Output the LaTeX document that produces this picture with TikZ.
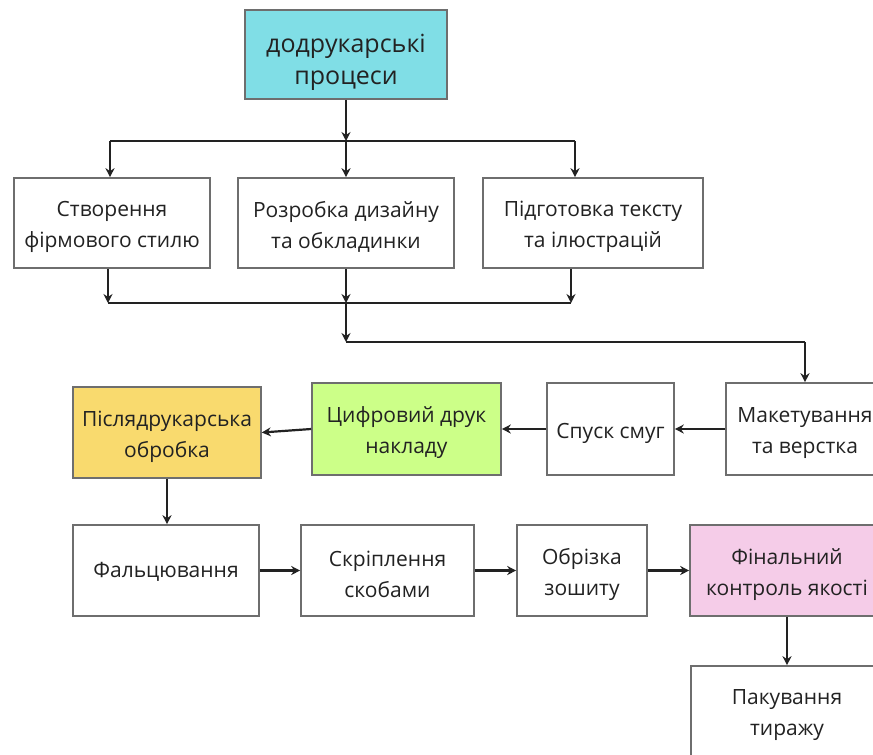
\documentclass[tikz,border=0pt]{standalone}
\usepackage{fontspec}
\setmainfont{Open Sans}
\usetikzlibrary{arrows.meta}
\definecolor{cyanbox}{HTML}{80DEE6}
\definecolor{yellowbox}{HTML}{F9DA6E}
\definecolor{greenbox}{HTML}{CCFF88}
\definecolor{pinkbox}{HTML}{F5CCE8}
\definecolor{edgegray}{HTML}{6E6E6E}
\definecolor{txt}{HTML}{222222}
\tikzset{
  box/.style={draw=edgegray, line width=1.6pt, fill=white, inner sep=0pt},
  lbl/.style={align=center, inner sep=0pt, text=txt, font=\fontsize{21}{31}\selectfont, yshift=-4pt},
  toplbl/.style={lbl, font=\fontsize{25}{32}\selectfont, yshift=-4pt},
  conn/.style={draw=txt, line width=2.2pt},
  arr/.style={conn, -{Stealth[length=9pt,width=9pt]}},
}
\begin{document}
\begin{tikzpicture}[x=1pt,y=-1pt]
\clip (0,0) rectangle (873,755);
\fill[white] (0,0) rectangle (873,755);
% nodes
\node[box, fill=cyanbox, minimum width=202pt, minimum height=89pt,
  label={[toplbl]center:додрукарські\\процеси}] (top) at (346,54.5) {};
\node[box, minimum width=196pt, minimum height=90pt,
  label={[lbl]center:Створення\\фірмового стилю}] (b1) at (112,223) {};
\node[box, minimum width=216pt, minimum height=90pt,
  label={[lbl]center:Розробка дизайну\\та обкладинки}] (b2) at (346,223) {};
\node[box, minimum width=220pt, minimum height=90pt,
  label={[lbl]center:Підготовка тексту\\та ілюстрацій}] (b3) at (593,223) {};
\node[box, fill=yellowbox, minimum width=188pt, minimum height=91pt,
  label={[lbl]center:Післядрукарська\\обробка}] (post) at (167,432.5) {};
\node[box, fill=greenbox, minimum width=189pt, minimum height=92pt,
  label={[lbl]center:Цифровий друк\\накладу}] (digi) at (406.5,429) {};
\node[box, minimum width=127pt, minimum height=92pt,
  label={[lbl]center:Спуск смуг}] (spusk) at (610.5,429) {};
\node[box, minimum width=158pt, minimum height=92pt,
  label={[lbl]center:Макетування\\та верстка}] (maket) at (805,429) {};
\node[box, minimum width=186pt, minimum height=91pt,
  label={[lbl, yshift=3pt]center:Фальцювання}] (falc) at (166,570.5) {};
\node[box, minimum width=173pt, minimum height=91pt,
  label={[lbl]center:Скріплення\\скобами}] (skrip) at (387.5,570.5) {};
\node[box, minimum width=130pt, minimum height=91pt,
  label={[lbl]center:Обрізка\\зошиту}] (obriz) at (582,570.5) {};
\node[box, fill=pinkbox, minimum width=194pt, minimum height=91pt,
  label={[lbl]center:Фінальний\\контроль якості}] (final) at (787,570.5) {};
\node[box, minimum width=192pt, minimum height=90pt,
  label={[lbl]center:Пакування\\тиражу}] (pack) at (787,711) {};
% junction coordinates
\coordinate (j1) at (346,141);
\coordinate (l1) at (110,141);
\coordinate (r1) at (575,141);
\coordinate (j2) at (346,303);
\coordinate (l2) at (108,303);
\coordinate (r2) at (571,303);
\coordinate (j3) at (346,342);
\coordinate (k3) at (805,342);
% connectors
\draw[arr] (top) -- (j1);
\draw[conn] (l1) -- (r1);
\draw[arr] (l1) -- (l1 |- b1.north);
\draw[arr] (j1) -- (b2);
\draw[arr] (r1) -- (r1 |- b3.north);
\draw[arr] (b1.south -| l2) -- (l2);
\draw[arr] (b3.south -| r2) -- (r2);
\draw[conn] (l2) -- (r2);
\draw[arr] (b2) -- (j2);
\draw[arr] (j2) -- (j3);
\draw[conn] (j3) -- (k3);
\draw[arr] (k3) -- (maket);
\draw[arr] (maket) -- (spusk);
\draw[arr] (spusk.west) -- (digi.east);
\draw[arr] (digi.west) -- (post.east);
\draw[arr] (post) -- (post |- falc.north);
\draw[arr] (falc) -- (skrip);
\draw[arr] (skrip) -- (obriz);
\draw[arr] (obriz) -- (final);
\draw[arr] (final) -- (pack);
\end{tikzpicture}
\end{document}
